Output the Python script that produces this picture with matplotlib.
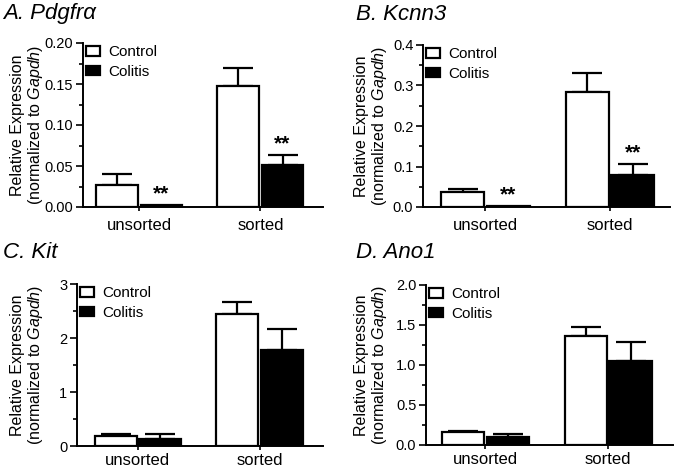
import matplotlib.pyplot as plt
from matplotlib.patches import Patch
from matplotlib.ticker import MultipleLocator

plt.rcParams["font.family"] = "Liberation Sans"
plt.rcParams["mathtext.fontset"] = "custom"
plt.rcParams["mathtext.rm"] = "Liberation Sans"
plt.rcParams["mathtext.it"] = "Liberation Sans:italic"

groups = ["unsorted", "sorted"]

titles = ["A. Pdgfr\u03b1", "B. Kcnn3", "C. Kit", "D. Ano1"]
control_mean = [[0.027, 0.148], [0.038, 0.283], [0.19, 2.44], [0.16, 1.36]]
control_err = [[0.013, 0.022], [0.006, 0.047], [0.04, 0.23], [0.015, 0.12]]
colitis_mean = [[0.002, 0.051], [0.002, 0.079], [0.13, 1.78], [0.10, 1.05]]
colitis_err = [[0.0, 0.012], [0.0, 0.027], [0.09, 0.38], [0.04, 0.24]]
stars = [[True, True], [True, True], [False, False], [False, False]]
ymax = [0.20, 0.4, 3, 2.0]
ymajor = [0.05, 0.1, 1, 0.5]
yminor = [0.025, 0.05, 0.5, 0.25]
yfmt = ["%.2f", "%.1f", "%d", "%.1f"]

# axes boxes in pixels: left, top, right, bottom
boxes = [(83, 43, 323, 207), (423, 45, 670, 207),
         (77, 284, 323, 446), (426, 285, 673, 445)]
xlims = [(0.0, 5.75), (-0.1, 5.65), (-0.1, 5.76), (-0.05, 5.78)]
title_pos = [(3, 14), (356, 14), (3, 252), (356, 252)]
label_right = [45, 389, 45, 389]
xpads = [5, 5, 2, 2]

W, H = 685, 470
fig = plt.figure(figsize=(6.85, 4.70), dpi=100)

centers = [1.35, 4.25]
bw = 1.0
off = 0.53

for i in range(4):
    l, t, r, b = boxes[i]
    ax = fig.add_axes([l / W, (H - b) / H, (r - l) / W, (b - t) / H])
    for j in range(2):
        xc = centers[j] - off
        xk = centers[j] + off
        ax.bar(xc, control_mean[i][j], bw, color="white", edgecolor="black", linewidth=1.6, zorder=2)
        ax.bar(xk, colitis_mean[i][j], bw, color="black", edgecolor="black", linewidth=1.6, zorder=2)
        ax.errorbar(xc, control_mean[i][j], yerr=[[0], [control_err[i][j]]], fmt="none",
                    ecolor="black", elinewidth=1.6, capsize=11, capthick=1.6, zorder=1)
        if colitis_err[i][j] > 0:
            ax.errorbar(xk, colitis_mean[i][j], yerr=[[0], [colitis_err[i][j]]], fmt="none",
                        ecolor="black", elinewidth=1.6, capsize=11, capthick=1.6, zorder=1)
        if stars[i][j]:
            top = colitis_mean[i][j] + colitis_err[i][j]
            ax.text(xk, top + ymax[i] * 0.01, "**", ha="center", va="bottom",
                    fontsize=15, fontweight="bold")
    ax.set_xlim(*xlims[i])
    ax.set_ylim(0, ymax[i])
    ax.yaxis.set_major_locator(MultipleLocator(ymajor[i]))
    ax.yaxis.set_minor_locator(MultipleLocator(yminor[i]))
    ax.yaxis.set_major_formatter(plt.FormatStrFormatter(yfmt[i]))
    ax.set_xticks(centers)
    ax.set_xticklabels(groups, fontsize=12)
    ax.tick_params(axis="x", length=3, width=1.2, pad=xpads[i])
    ax.tick_params(axis="y", which="major", length=5, width=1.2, labelsize=10.5, pad=2)
    ax.tick_params(axis="y", which="minor", length=3, width=1.2)
    for s in ["top", "right"]:
        ax.spines[s].set_visible(False)
    for s in ["left", "bottom"]:
        ax.spines[s].set_linewidth(1.4)
    ax.set_ylabel("Relative Expression\n(normalized to $\\mathit{Gapdh}$)", fontsize=11.5,
                  linespacing=1.1)
    ax.yaxis.set_label_coords((label_right[i] - l) / (r - l), 0.5)
    handles = [Patch(facecolor="white", edgecolor="black", linewidth=1.6, label="Control"),
               Patch(facecolor="black", edgecolor="black", linewidth=1.6, label="Colitis")]
    ax.legend(handles=handles, loc="upper left", frameon=False, fontsize=11,
              handlelength=0.95, handleheight=0.55, handletextpad=0.5, labelspacing=0.35,
              borderaxespad=0.0, borderpad=0.0, bbox_to_anchor=(0.012, 0.985))
    fig.text(title_pos[i][0] / W, 1 - title_pos[i][1] / H, titles[i],
             fontsize=16, fontstyle="italic", va="center", ha="left")

fig.savefig("out.png", dpi=100)
